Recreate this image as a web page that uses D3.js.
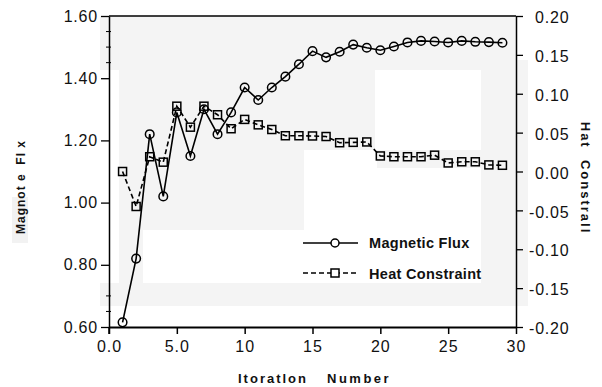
<!DOCTYPE html>
<html><head><meta charset="utf-8">
<script src="https://cdn.jsdelivr.net/npm/d3@7"></script>
<style>
html,body{margin:0;padding:0;background:#fff;}
svg{display:block;font-family:"Liberation Sans",Arial,sans-serif;}
</style></head>
<body>
<svg id="chart" width="602" height="387"></svg>
<script>
// ---- data ----
const iterations = [1,2,3,4,5,6,7,8,9,10,11,12,13,14,15,16,17,18,19,20,21,22,23,24,25,26,27,28,29];
const magneticFlux = [0.615,0.82,1.22,1.02,1.29,1.15,1.30,1.22,1.29,1.37,1.33,1.37,1.405,1.445,1.487,1.467,1.485,1.508,1.498,1.49,1.502,1.515,1.52,1.518,1.515,1.52,1.517,1.516,1.514];
const heatConstraint = [0.000,-0.045,0.019,0.012,0.084,0.057,0.084,0.073,0.055,0.067,0.060,0.054,0.046,0.046,0.0457,0.045,0.037,0.0375,0.038,0.020,0.019,0.019,0.019,0.021,0.011,0.0125,0.0125,0.0085,0.008];
const xTicks = [0,5,10,15,20,25,30];
const xTickLabels = ["0.0","5.0","10","15","20","25","30"];
const leftTicks = [0.6,0.8,1.0,1.2,1.4,1.6];
const leftMinorTicks = [1.55,1.5,1.45,0.7,0.65];
const rightTicks = [-0.2,-0.15,-0.1,-0.05,0,0.05,0.1,0.15,0.2];
const seriesNames = ["Magnetic Flux","Heat Constraint"];
const leftTitle = "Magnot e  Fl x";
const rightTitle = "Hat  Constrall";
const xTitleParts = ["Itoratlon","Number"];

// ---- scales ----
const x = d3.scaleLinear().domain([0,30]).range([109,516]);
const yL = d3.scaleLinear().domain([0.6,1.6]).range([327,16]);
const yR = d3.scaleLinear().domain([-0.2,0.2]).range([327,16]);

const svg = d3.select("#chart");

// ---- scan-like background patches ----
const bg = svg.append("g");
bg.append("rect").attr("x",100).attr("y",16).attr("width",428).attr("height",290).attr("fill","#f4f4f4");
[[100,70,19,213],[143,230,338,53],[304,168,177,62],[304,150,73,18],[375,70,106,80],[516,16,12,44]]
  .forEach(r=>bg.append("rect").attr("x",r[0]).attr("y",r[1]).attr("width",r[2]).attr("height",r[3]).attr("fill","#fff"));
bg.append("rect").attr("x",12).attr("y",197).attr("width",16).attr("height",46).attr("fill","#f2f2f2");

// ---- frame ----
svg.append("line").attr("x1",109).attr("x2",516).attr("y1",16).attr("y2",16).attr("stroke","#000").attr("stroke-width",1.5);

// ---- axes ----
const fontSize = 16;
const gx = svg.append("g").attr("transform","translate(0,327)")
  .call(d3.axisBottom(x).tickValues(xTicks).tickFormat((d,i)=>xTickLabels[i]).tickSize(7).tickSizeOuter(0).tickPadding(7));
gx.select(".domain").attr("stroke-width",2);
gx.selectAll(".tick line").attr("stroke-width",1.5);
gx.selectAll("text").attr("font-size",fontSize).attr("letter-spacing","1px").attr("fill","#111").attr("font-family","Liberation Sans, Arial, sans-serif");

const gl = svg.append("g").attr("transform","translate(109,0)")
  .call(d3.axisLeft(yL).tickValues(leftTicks).tickFormat(d3.format(".2f")).tickSize(8).tickSizeOuter(0).tickPadding(3));
gl.select(".domain").attr("stroke-width",1.5);
gl.selectAll(".tick line").attr("stroke-width",1.3);
gl.selectAll("text").attr("font-size",fontSize).attr("letter-spacing","0.8px").attr("fill","#111").attr("font-family","Liberation Sans, Arial, sans-serif");
svg.append("line").attr("x1",109).attr("x2",109).attr("y1",327).attr("y2",334).attr("stroke","#000").attr("stroke-width",1.5);
svg.append("g").selectAll("line").data(leftMinorTicks).join("line")
  .attr("x1",106).attr("x2",111).attr("y1",d=>yL(d)).attr("y2",d=>yL(d)).attr("stroke","#000").attr("stroke-width",1);

const gr = svg.append("g").attr("transform","translate(516,0)")
  .call(d3.axisRight(yR).tickValues(rightTicks).tickFormat(d=>d3.format(".2f")(d).replace("−","-")).tickSize(7).tickSizeOuter(0).tickPadding(6));
gr.select(".domain").attr("stroke-width",1.5);
gr.selectAll(".tick line").attr("stroke-width",1.3);
gr.selectAll("text").attr("font-size",fontSize).attr("letter-spacing","0.8px").attr("fill","#111").attr("font-family","Liberation Sans, Arial, sans-serif")
  .attr("dx",d=>d<0?0:6).attr("dy","0.42em");

// ---- axis titles ----
svg.append("text").attr("x",238).attr("y",383).attr("font-size",13).attr("font-weight","bold").attr("letter-spacing","2px").attr("fill","#111").text(xTitleParts[0]);
svg.append("text").attr("x",327).attr("y",383).attr("font-size",13).attr("font-weight","bold").attr("letter-spacing","2.5px").attr("fill","#111").text(xTitleParts[1]);
svg.append("text").attr("transform","translate(25,187) rotate(-90)").attr("text-anchor","middle")
  .attr("font-size",12).attr("font-weight","bold").attr("letter-spacing","1px").attr("fill","#111").attr("xml:space","preserve").text(leftTitle);
svg.append("text").attr("transform","translate(581,178) rotate(90)").attr("text-anchor","middle")
  .attr("font-size",13).attr("font-weight","bold").attr("letter-spacing","2px").attr("fill","#111").attr("xml:space","preserve").text(rightTitle);

// ---- series ----
const magData = iterations.map((d,i)=>({x:d,y:magneticFlux[i]}));
const heatData = iterations.map((d,i)=>({x:d,y:heatConstraint[i]}));

svg.append("path").datum(heatData)
  .attr("d",d3.line().x(d=>x(d.x)).y(d=>yR(d.y)))
  .attr("fill","none").attr("stroke","#000").attr("stroke-width",1.6).attr("stroke-dasharray","5,3");
svg.append("g").selectAll("rect").data(heatData).join("rect")
  .attr("x",d=>x(d.x)-4).attr("y",d=>yR(d.y)-4).attr("width",8).attr("height",8)
  .attr("fill","none").attr("stroke","#000").attr("stroke-width",1.5);

svg.append("path").datum(magData)
  .attr("d",d3.line().x(d=>x(d.x)).y(d=>yL(d.y)))
  .attr("fill","none").attr("stroke","#000").attr("stroke-width",1.6);
svg.append("g").selectAll("circle").data(magData).join("circle")
  .attr("cx",d=>x(d.x)).attr("cy",d=>yL(d.y)).attr("r",4.3)
  .attr("fill","none").attr("stroke","#000").attr("stroke-width",1.5);

// ---- legend ----
const lg = svg.append("g");
lg.append("line").attr("x1",303).attr("x2",358).attr("y1",243).attr("y2",243).attr("stroke","#000").attr("stroke-width",1.6);
lg.append("circle").attr("cx",335).attr("cy",243).attr("r",4).attr("fill","#fff").attr("stroke","#000").attr("stroke-width",1.5);
lg.append("line").attr("x1",303).attr("x2",358).attr("y1",273).attr("y2",273).attr("stroke","#000").attr("stroke-width",1.6).attr("stroke-dasharray","5,3");
lg.append("rect").attr("x",331).attr("y",269).attr("width",8).attr("height",8).attr("fill","#fff").attr("stroke","#000").attr("stroke-width",1.5);
lg.append("text").attr("x",369).attr("y",248).attr("font-size",14.5).attr("font-weight","bold").attr("letter-spacing","0.3px").attr("fill","#111").text(seriesNames[0]);
lg.append("text").attr("x",369).attr("y",279).attr("font-size",14.5).attr("font-weight","bold").attr("letter-spacing","0.3px").attr("fill","#111").text(seriesNames[1]);
</script>
</body></html>
